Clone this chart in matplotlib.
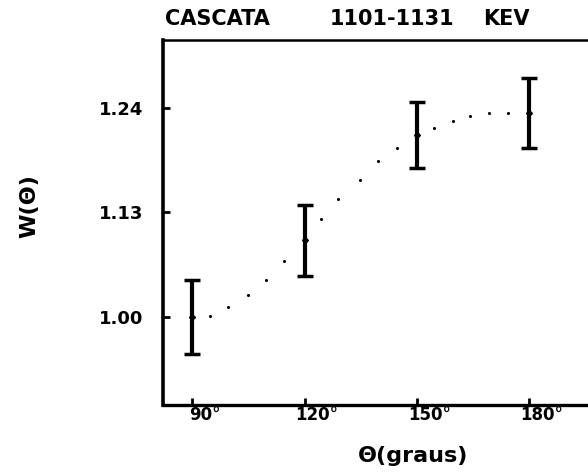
import matplotlib
matplotlib.use("Agg")
import matplotlib.pyplot as plt
from matplotlib.transforms import ScaledTranslation

# measured data
angles = [90, 120, 150, 180]
w_vals = [1.000, 1.088, 1.209, 1.234]
w_err = [0.042, 0.041, 0.038, 0.040]

# dotted fit curve
fit_x = [94.8, 99.6, 104.8, 109.7, 114.5, 124.4, 128.9, 134.8, 139.5, 144.7,
         154.6, 159.5, 164.1, 169.1, 174.3]
fit_y = [1.001, 1.011, 1.025, 1.043, 1.064, 1.112, 1.136, 1.157, 1.179, 1.194,
         1.217, 1.225, 1.231, 1.234, 1.234]

xtick_vals = [90, 120, 150, 180]
xtick_labels = ["90°", "120°", "150°", "180°"]
ytick_vals = [1.00, 1.12, 1.24]
ytick_labels = ["1.00", "1.13", "1.24"]
title_parts = ["CASCATA", "1101-1131", "KEV"]

W, H = 588, 475
fig = plt.figure(figsize=(W / 100, H / 100), dpi=100)
ax = fig.add_axes([163 / W, 1 - 405 / H, 0.725, (405 - 40) / H])

ax.errorbar(angles, w_vals, yerr=w_err, fmt='D', ms=3, color='black',
            ecolor='black', elinewidth=3, capsize=5.5, capthick=2.5)
ax.scatter(fit_x, fit_y, s=5, color='black', linewidths=0)

ax.set_xlim(82.2, 196)
ax.set_ylim(0.899, 1.318)

ax.set_xticks(xtick_vals)
ax.set_xticklabels(xtick_labels, fontsize=12, fontweight='bold')
ax.set_yticks(ytick_vals)
ax.set_yticklabels(ytick_labels, fontsize=13, fontweight='bold')
ax.tick_params(direction='in', length=5, width=2)
ax.tick_params(axis='x', pad=1)
ax.tick_params(axis='y', pad=14)
off = ScaledTranslation(9 / 72, 0, fig.dpi_scale_trans)
for lab in ax.get_xticklabels():
    lab.set_transform(lab.get_transform() + off)

ax.spines['left'].set_linewidth(2.6)
ax.spines['bottom'].set_linewidth(2.4)
ax.spines['top'].set_linewidth(1.8)
ax.spines['right'].set_visible(False)

title_x = [165, 330, 483]
for t, xp in zip(title_parts, title_x):
    fig.text(xp / W, 1 - 19 / H, t, fontsize=15, fontweight='bold',
             ha='left', va='center')

ax.set_ylabel("W(Θ)", fontsize=16, fontweight='bold')
ax.yaxis.set_label_coords(-0.29, 0.545)
ax.set_xlabel("Θ(graus)", fontsize=16, fontweight='bold')
ax.xaxis.set_label_coords(0.586, -0.112)

fig.savefig("out.png", dpi=100)
